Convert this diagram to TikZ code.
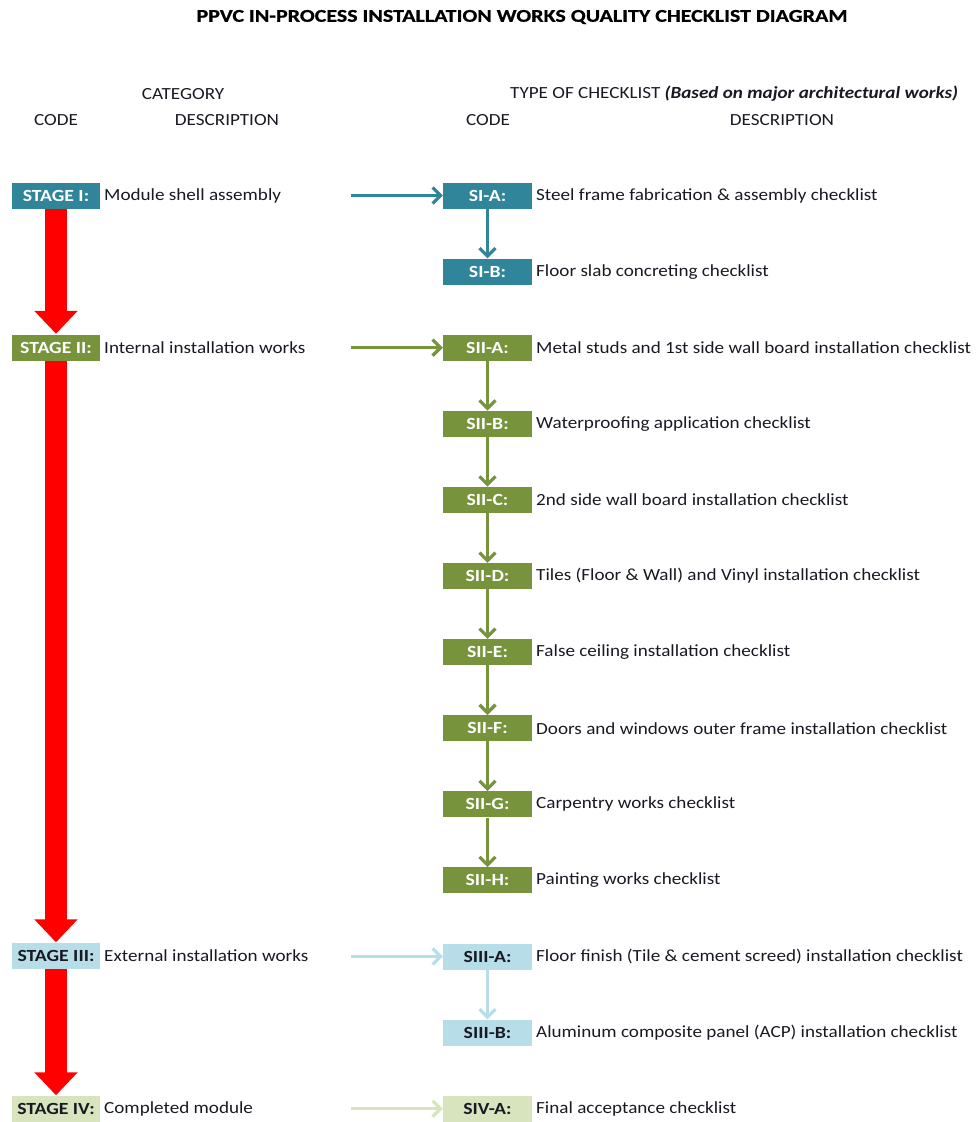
\documentclass[tikz,border=0pt]{standalone}
\usepackage{fontspec}
\setmainfont{Carlito}[FakeStretch=1.125]
\newfontfamily\codefont{Carlito}[FakeStretch=1.16]
\newfontfamily\titlefont{Carlito}[FakeStretch=1.22, BoldFeatures={FakeBold=0.8}]
\usetikzlibrary{arrows.meta}

\definecolor{stageone}{RGB}{49,133,155}
\definecolor{stagetwo}{RGB}{119,147,60}
\definecolor{stagethree}{RGB}{183,222,232}
\definecolor{stagefour}{RGB}{215,228,189}
\definecolor{bodytext}{RGB}{25,25,35}
\definecolor{flowred}{RGB}{255,0,0}

\tikzset{
  base/.style={inner sep=0pt, font=\fontsize{17}{19}\selectfont},
  codebox/.style={base, minimum width=89pt, minimum height=26pt, font=\fontsize{17}{19}\selectfont\codefont\bfseries},
  darkbox/.style={codebox, fill=#1, text=white},
  lightbox/.style={codebox, fill=#1, text=bodytext},
  desc/.style={base, anchor=west, text=bodytext},
  head/.style={base, text=bodytext},
  link/.style={line width=3.2pt, draw=#1, -{Straight Barb[length=8pt,width=16pt]}},
  stageflow/.style={line width=22pt, draw=flowred, -{Triangle[length=23pt,width=42pt]}, shorten >=0.5pt}
}

\begin{document}
\begin{tikzpicture}[x=1pt,y=-1pt]
\useasboundingbox (0,0) rectangle (978,1122);

% title and column headings
\node[base, font=\fontsize{18}{20}\selectfont\titlefont\bfseries, text=black] (title) at (522,17) {PPVC IN-PROCESS INSTALLATION WORKS QUALITY CHECKLIST DIAGRAM};
\node[head] (hcat) at (183,94) {CATEGORY};
\node[head, anchor=west] (htype) at (510,94) {TYPE OF CHECKLIST \textbf{\textit{(Based on major architectural works)}}};
\node[head] (hcode1) at (56,120) {CODE};
\node[head] (hdesc1) at (227,120) {DESCRIPTION};
\node[head] (hcode2) at (488,120) {CODE};
\node[head] (hdesc2) at (782,120) {DESCRIPTION};

% stages
\node[darkbox=stageone, minimum width=88pt] (st1) at (56,195.5) {STAGE I:};
\node[darkbox=stagetwo, minimum width=88pt] (st2) at (56,347.5) {STAGE II:};
\node[lightbox=stagethree, minimum width=88pt] (st3) at (56,956) {STAGE III:};
\node[lightbox=stagefour, minimum width=88pt] (st4) at (56,1109) {STAGE IV:};
\node[desc] (dst1) at (104,195.5) {Module shell assembly};
\node[desc] (dst2) at (104,347.5) {Internal installation works};
\node[desc] (dst3) at (104,956) {External installation works};
\node[desc] (dst4) at (104,1109) {Completed module};

% checklists
\node[darkbox=stageone] (sia) at (487.5,195.5) {SI-A:};
\node[darkbox=stageone] (sib) at (487.5,271.6) {SI-B:};
\node[darkbox=stagetwo] (siia) at (487.5,347.7) {SII-A:};
\node[darkbox=stagetwo] (siib) at (487.5,423.8) {SII-B:};
\node[darkbox=stagetwo] (siic) at (487.5,499.9) {SII-C:};
\node[darkbox=stagetwo] (siid) at (487.5,576.0) {SII-D:};
\node[darkbox=stagetwo] (siie) at (487.5,652.1) {SII-E:};
\node[darkbox=stagetwo] (siif) at (487.5,728.2) {SII-F:};
\node[darkbox=stagetwo] (siig) at (487.5,804.3) {SII-G:};
\node[darkbox=stagetwo] (siih) at (487.5,880.4) {SII-H:};
\node[lightbox=stagethree] (siiia) at (487.5,956.5) {SIII-A:};
\node[lightbox=stagethree] (siiib) at (487.5,1032.6) {SIII-B:};
\node[lightbox=stagefour] (siva) at (487.5,1108.7) {SIV-A:};

\node[desc] (dsia) at (536,195.5) {Steel frame fabrication \& assembly checklist};
\node[desc] (dsib) at (536,271.6) {Floor slab concreting checklist};
\node[desc] (dsiia) at (536,347.7) {Metal studs and 1st side wall board installation checklist};
\node[desc] (dsiib) at (536,423.8) {Waterproofing application checklist};
\node[desc] (dsiic) at (536,499.9) {2nd side wall board installation checklist};
\node[desc] (dsiid) at (536,576.0) {Tiles (Floor \& Wall) and Vinyl installation checklist};
\node[desc] (dsiie) at (536,652.1) {False ceiling installation checklist};
\node[desc] (dsiif) at (536,728.2) {Doors and windows outer frame installation checklist};
\node[desc] (dsiig) at (536,804.3) {Carpentry works checklist};
\node[desc] (dsiih) at (536,880.4) {Painting works checklist};
\node[desc] (dsiiia) at (536,956.5) {Floor finish (Tile \& cement screed) installation checklist};
\node[desc] (dsiiib) at (536,1032.6) {Aluminum composite panel (ACP) installation checklist};
\node[desc] (dsiva) at (536,1108.7) {Final acceptance checklist};

% stage-to-checklist arrows start here
\coordinate (f1) at (351,195.5);
\coordinate (f2) at (351,347.7);
\coordinate (f3) at (351,956.5);
\coordinate (f4) at (351,1108.7);

% flow between stages
\draw[stageflow] (st1.south) -- (st2.north);
\draw[stageflow] (st2.south) -- (st3.north);
\draw[stageflow] (st3.south) -- (st4.north);

% stage to first checklist
\draw[link=stageone] (f1) -- (sia.west);
\draw[link=stagetwo] (f2) -- (siia.west);
\draw[link=stagethree] (f3) -- (siiia.west);
\draw[link=stagefour] (f4) -- (siva.west);

% checklist sequence
\draw[link=stageone] (sia) -- (sib);
\draw[link=stagetwo] (siia) -- (siib);
\draw[link=stagetwo] (siib) -- (siic);
\draw[link=stagetwo] (siic) -- (siid);
\draw[link=stagetwo] (siid) -- (siie);
\draw[link=stagetwo] (siie) -- (siif);
\draw[link=stagetwo] (siif) -- (siig);
\draw[link=stagetwo] (siig) -- (siih);
\draw[link=stagethree] (siiia) -- (siiib);
\end{tikzpicture}
\end{document}
